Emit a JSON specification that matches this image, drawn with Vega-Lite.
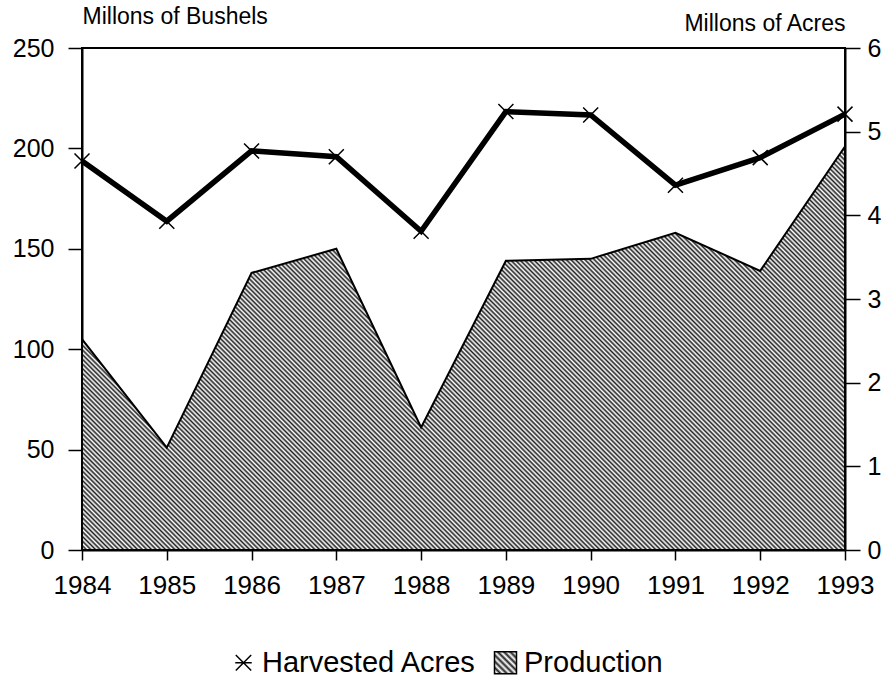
{
"$schema": "https://vega.github.io/schema/vega-lite/v6.json",
"width": 763,
"height": 502,
"autosize": {"type": "none"},
"padding": {"left": 82, "top": 48, "right": 40, "bottom": 128},
"background": "white",
"config": {
"view": {"stroke": "black", "strokeWidth": 2},
"font": "Liberation Sans",
"axis": {"domainColor": "black", "domainWidth": 2, "tickColor": "black", "tickWidth": 1.5, "labelColor": "black", "labelFont": "Liberation Sans", "titleFont": "Liberation Sans", "titleColor": "black", "titleFontWeight": "normal", "grid": false, "labelFontSize": 25}
},
"data": {"values": [
{"year": 1984, "production": 105, "acres": 4.65},
{"year": 1985, "production": 51, "acres": 3.93},
{"year": 1986, "production": 138, "acres": 4.77},
{"year": 1987, "production": 150, "acres": 4.70},
{"year": 1988, "production": 61, "acres": 3.81},
{"year": 1989, "production": 144, "acres": 5.24},
{"year": 1990, "production": 145, "acres": 5.20},
{"year": 1991, "production": 158, "acres": 4.36},
{"year": 1992, "production": 139, "acres": 4.69},
{"year": 1993, "production": 201, "acres": 5.21}
]},
"encoding": {
"x": {"field": "year", "type": "quantitative", "scale": {"domain": [1984, 1993], "nice": false, "zero": false},
"axis": {"values": [1984,1985,1986,1987,1988,1989,1990,1991,1992,1993], "format": "d", "title": null, "labelFontSize": 26, "labelPadding": 12, "tickSize": 10, "labelFlush": false, "grid": false}}
},
"layer": [
{
"mark": {"type": "area", "stroke": "black", "strokeWidth": 2,
"fill": {"gradient": "linear", "x1": 0, "y1": 1, "x2": 1.1946, "y2": 0.3675, "stops": [
{"offset":0.000,"color":"#222"},{"offset":0.002,"color":"#fff"},{"offset":0.004,"color":"#222"},{"offset":0.006,"color":"#fff"},{"offset":0.008,"color":"#222"},
{"offset":0.010,"color":"#fff"},{"offset":0.012,"color":"#222"},{"offset":0.014,"color":"#fff"},{"offset":0.016,"color":"#222"},{"offset":0.018,"color":"#fff"},
{"offset":0.020,"color":"#222"},{"offset":0.022,"color":"#fff"},{"offset":0.024,"color":"#222"},{"offset":0.026,"color":"#fff"},{"offset":0.028,"color":"#222"},
{"offset":0.030,"color":"#fff"},{"offset":0.032,"color":"#222"},{"offset":0.034,"color":"#fff"},{"offset":0.036,"color":"#222"},{"offset":0.038,"color":"#fff"},
{"offset":0.040,"color":"#222"},{"offset":0.042,"color":"#fff"},{"offset":0.044,"color":"#222"},{"offset":0.046,"color":"#fff"},{"offset":0.048,"color":"#222"},
{"offset":0.050,"color":"#fff"},{"offset":0.052,"color":"#222"},{"offset":0.054,"color":"#fff"},{"offset":0.056,"color":"#222"},{"offset":0.058,"color":"#fff"},
{"offset":0.060,"color":"#222"},{"offset":0.062,"color":"#fff"},{"offset":0.064,"color":"#222"},{"offset":0.066,"color":"#fff"},{"offset":0.068,"color":"#222"},
{"offset":0.070,"color":"#fff"},{"offset":0.072,"color":"#222"},{"offset":0.074,"color":"#fff"},{"offset":0.076,"color":"#222"},{"offset":0.078,"color":"#fff"},
{"offset":0.080,"color":"#222"},{"offset":0.082,"color":"#fff"},{"offset":0.084,"color":"#222"},{"offset":0.086,"color":"#fff"},{"offset":0.088,"color":"#222"},
{"offset":0.090,"color":"#fff"},{"offset":0.092,"color":"#222"},{"offset":0.094,"color":"#fff"},{"offset":0.096,"color":"#222"},{"offset":0.098,"color":"#fff"},
{"offset":0.100,"color":"#222"},{"offset":0.102,"color":"#fff"},{"offset":0.104,"color":"#222"},{"offset":0.106,"color":"#fff"},{"offset":0.108,"color":"#222"},
{"offset":0.110,"color":"#fff"},{"offset":0.112,"color":"#222"},{"offset":0.114,"color":"#fff"},{"offset":0.116,"color":"#222"},{"offset":0.118,"color":"#fff"},
{"offset":0.120,"color":"#222"},{"offset":0.122,"color":"#fff"},{"offset":0.124,"color":"#222"},{"offset":0.126,"color":"#fff"},{"offset":0.128,"color":"#222"},
{"offset":0.130,"color":"#fff"},{"offset":0.132,"color":"#222"},{"offset":0.134,"color":"#fff"},{"offset":0.136,"color":"#222"},{"offset":0.138,"color":"#fff"},
{"offset":0.140,"color":"#222"},{"offset":0.142,"color":"#fff"},{"offset":0.144,"color":"#222"},{"offset":0.146,"color":"#fff"},{"offset":0.148,"color":"#222"},
{"offset":0.150,"color":"#fff"},{"offset":0.152,"color":"#222"},{"offset":0.154,"color":"#fff"},{"offset":0.156,"color":"#222"},{"offset":0.158,"color":"#fff"},
{"offset":0.160,"color":"#222"},{"offset":0.162,"color":"#fff"},{"offset":0.164,"color":"#222"},{"offset":0.166,"color":"#fff"},{"offset":0.168,"color":"#222"},
{"offset":0.170,"color":"#fff"},{"offset":0.172,"color":"#222"},{"offset":0.174,"color":"#fff"},{"offset":0.176,"color":"#222"},{"offset":0.178,"color":"#fff"},
{"offset":0.180,"color":"#222"},{"offset":0.182,"color":"#fff"},{"offset":0.184,"color":"#222"},{"offset":0.186,"color":"#fff"},{"offset":0.188,"color":"#222"},
{"offset":0.190,"color":"#fff"},{"offset":0.192,"color":"#222"},{"offset":0.194,"color":"#fff"},{"offset":0.196,"color":"#222"},{"offset":0.198,"color":"#fff"},
{"offset":0.200,"color":"#222"},{"offset":0.202,"color":"#fff"},{"offset":0.204,"color":"#222"},{"offset":0.206,"color":"#fff"},{"offset":0.208,"color":"#222"},
{"offset":0.210,"color":"#fff"},{"offset":0.212,"color":"#222"},{"offset":0.214,"color":"#fff"},{"offset":0.216,"color":"#222"},{"offset":0.218,"color":"#fff"},
{"offset":0.220,"color":"#222"},{"offset":0.222,"color":"#fff"},{"offset":0.224,"color":"#222"},{"offset":0.226,"color":"#fff"},{"offset":0.228,"color":"#222"},
{"offset":0.230,"color":"#fff"},{"offset":0.232,"color":"#222"},{"offset":0.234,"color":"#fff"},{"offset":0.236,"color":"#222"},{"offset":0.238,"color":"#fff"},
{"offset":0.240,"color":"#222"},{"offset":0.242,"color":"#fff"},{"offset":0.244,"color":"#222"},{"offset":0.246,"color":"#fff"},{"offset":0.248,"color":"#222"},
{"offset":0.250,"color":"#fff"},{"offset":0.252,"color":"#222"},{"offset":0.254,"color":"#fff"},{"offset":0.256,"color":"#222"},{"offset":0.258,"color":"#fff"},
{"offset":0.260,"color":"#222"},{"offset":0.262,"color":"#fff"},{"offset":0.264,"color":"#222"},{"offset":0.266,"color":"#fff"},{"offset":0.268,"color":"#222"},
{"offset":0.270,"color":"#fff"},{"offset":0.272,"color":"#222"},{"offset":0.274,"color":"#fff"},{"offset":0.276,"color":"#222"},{"offset":0.278,"color":"#fff"},
{"offset":0.280,"color":"#222"},{"offset":0.282,"color":"#fff"},{"offset":0.284,"color":"#222"},{"offset":0.286,"color":"#fff"},{"offset":0.288,"color":"#222"},
{"offset":0.290,"color":"#fff"},{"offset":0.292,"color":"#222"},{"offset":0.294,"color":"#fff"},{"offset":0.296,"color":"#222"},{"offset":0.298,"color":"#fff"},
{"offset":0.300,"color":"#222"},{"offset":0.302,"color":"#fff"},{"offset":0.304,"color":"#222"},{"offset":0.306,"color":"#fff"},{"offset":0.308,"color":"#222"},
{"offset":0.310,"color":"#fff"},{"offset":0.312,"color":"#222"},{"offset":0.314,"color":"#fff"},{"offset":0.316,"color":"#222"},{"offset":0.318,"color":"#fff"},
{"offset":0.320,"color":"#222"},{"offset":0.322,"color":"#fff"},{"offset":0.324,"color":"#222"},{"offset":0.326,"color":"#fff"},{"offset":0.328,"color":"#222"},
{"offset":0.330,"color":"#fff"},{"offset":0.332,"color":"#222"},{"offset":0.334,"color":"#fff"},{"offset":0.336,"color":"#222"},{"offset":0.338,"color":"#fff"},
{"offset":0.340,"color":"#222"},{"offset":0.342,"color":"#fff"},{"offset":0.344,"color":"#222"},{"offset":0.346,"color":"#fff"},{"offset":0.348,"color":"#222"},
{"offset":0.350,"color":"#fff"},{"offset":0.352,"color":"#222"},{"offset":0.354,"color":"#fff"},{"offset":0.356,"color":"#222"},{"offset":0.358,"color":"#fff"},
{"offset":0.360,"color":"#222"},{"offset":0.362,"color":"#fff"},{"offset":0.364,"color":"#222"},{"offset":0.366,"color":"#fff"},{"offset":0.368,"color":"#222"},
{"offset":0.370,"color":"#fff"},{"offset":0.372,"color":"#222"},{"offset":0.374,"color":"#fff"},{"offset":0.376,"color":"#222"},{"offset":0.378,"color":"#fff"},
{"offset":0.380,"color":"#222"},{"offset":0.382,"color":"#fff"},{"offset":0.384,"color":"#222"},{"offset":0.386,"color":"#fff"},{"offset":0.388,"color":"#222"},
{"offset":0.390,"color":"#fff"},{"offset":0.392,"color":"#222"},{"offset":0.394,"color":"#fff"},{"offset":0.396,"color":"#222"},{"offset":0.398,"color":"#fff"},
{"offset":0.400,"color":"#222"},{"offset":0.402,"color":"#fff"},{"offset":0.404,"color":"#222"},{"offset":0.406,"color":"#fff"},{"offset":0.408,"color":"#222"},
{"offset":0.410,"color":"#fff"},{"offset":0.412,"color":"#222"},{"offset":0.414,"color":"#fff"},{"offset":0.416,"color":"#222"},{"offset":0.418,"color":"#fff"},
{"offset":0.420,"color":"#222"},{"offset":0.422,"color":"#fff"},{"offset":0.424,"color":"#222"},{"offset":0.426,"color":"#fff"},{"offset":0.428,"color":"#222"},
{"offset":0.430,"color":"#fff"},{"offset":0.432,"color":"#222"},{"offset":0.434,"color":"#fff"},{"offset":0.436,"color":"#222"},{"offset":0.438,"color":"#fff"},
{"offset":0.440,"color":"#222"},{"offset":0.442,"color":"#fff"},{"offset":0.444,"color":"#222"},{"offset":0.446,"color":"#fff"},{"offset":0.448,"color":"#222"},
{"offset":0.450,"color":"#fff"},{"offset":0.452,"color":"#222"},{"offset":0.454,"color":"#fff"},{"offset":0.456,"color":"#222"},{"offset":0.458,"color":"#fff"},
{"offset":0.460,"color":"#222"},{"offset":0.462,"color":"#fff"},{"offset":0.464,"color":"#222"},{"offset":0.466,"color":"#fff"},{"offset":0.468,"color":"#222"},
{"offset":0.470,"color":"#fff"},{"offset":0.472,"color":"#222"},{"offset":0.474,"color":"#fff"},{"offset":0.476,"color":"#222"},{"offset":0.478,"color":"#fff"},
{"offset":0.480,"color":"#222"},{"offset":0.482,"color":"#fff"},{"offset":0.484,"color":"#222"},{"offset":0.486,"color":"#fff"},{"offset":0.488,"color":"#222"},
{"offset":0.490,"color":"#fff"},{"offset":0.492,"color":"#222"},{"offset":0.494,"color":"#fff"},{"offset":0.496,"color":"#222"},{"offset":0.498,"color":"#fff"},
{"offset":0.500,"color":"#222"},{"offset":0.502,"color":"#fff"},{"offset":0.504,"color":"#222"},{"offset":0.506,"color":"#fff"},{"offset":0.508,"color":"#222"},
{"offset":0.510,"color":"#fff"},{"offset":0.512,"color":"#222"},{"offset":0.514,"color":"#fff"},{"offset":0.516,"color":"#222"},{"offset":0.518,"color":"#fff"},
{"offset":0.520,"color":"#222"},{"offset":0.522,"color":"#fff"},{"offset":0.524,"color":"#222"},{"offset":0.526,"color":"#fff"},{"offset":0.528,"color":"#222"},
{"offset":0.530,"color":"#fff"},{"offset":0.532,"color":"#222"},{"offset":0.534,"color":"#fff"},{"offset":0.536,"color":"#222"},{"offset":0.538,"color":"#fff"},
{"offset":0.540,"color":"#222"},{"offset":0.542,"color":"#fff"},{"offset":0.544,"color":"#222"},{"offset":0.546,"color":"#fff"},{"offset":0.548,"color":"#222"},
{"offset":0.550,"color":"#fff"},{"offset":0.552,"color":"#222"},{"offset":0.554,"color":"#fff"},{"offset":0.556,"color":"#222"},{"offset":0.558,"color":"#fff"},
{"offset":0.560,"color":"#222"},{"offset":0.562,"color":"#fff"},{"offset":0.564,"color":"#222"},{"offset":0.566,"color":"#fff"},{"offset":0.568,"color":"#222"},
{"offset":0.570,"color":"#fff"},{"offset":0.572,"color":"#222"},{"offset":0.574,"color":"#fff"},{"offset":0.576,"color":"#222"},{"offset":0.578,"color":"#fff"},
{"offset":0.580,"color":"#222"},{"offset":0.582,"color":"#fff"},{"offset":0.584,"color":"#222"},{"offset":0.586,"color":"#fff"},{"offset":0.588,"color":"#222"},
{"offset":0.590,"color":"#fff"},{"offset":0.592,"color":"#222"},{"offset":0.594,"color":"#fff"},{"offset":0.596,"color":"#222"},{"offset":0.598,"color":"#fff"},
{"offset":0.600,"color":"#222"},{"offset":0.602,"color":"#fff"},{"offset":0.604,"color":"#222"},{"offset":0.606,"color":"#fff"},{"offset":0.608,"color":"#222"},
{"offset":0.610,"color":"#fff"},{"offset":0.612,"color":"#222"},{"offset":0.614,"color":"#fff"},{"offset":0.616,"color":"#222"},{"offset":0.618,"color":"#fff"},
{"offset":0.620,"color":"#222"},{"offset":0.622,"color":"#fff"},{"offset":0.624,"color":"#222"},{"offset":0.626,"color":"#fff"},{"offset":0.628,"color":"#222"},
{"offset":0.630,"color":"#fff"},{"offset":0.632,"color":"#222"},{"offset":0.634,"color":"#fff"},{"offset":0.636,"color":"#222"},{"offset":0.638,"color":"#fff"},
{"offset":0.640,"color":"#222"},{"offset":0.642,"color":"#fff"},{"offset":0.644,"color":"#222"},{"offset":0.646,"color":"#fff"},{"offset":0.648,"color":"#222"},
{"offset":0.650,"color":"#fff"},{"offset":0.652,"color":"#222"},{"offset":0.654,"color":"#fff"},{"offset":0.656,"color":"#222"},{"offset":0.658,"color":"#fff"},
{"offset":0.660,"color":"#222"},{"offset":0.662,"color":"#fff"},{"offset":0.664,"color":"#222"},{"offset":0.666,"color":"#fff"},{"offset":0.668,"color":"#222"},
{"offset":0.670,"color":"#fff"},{"offset":0.672,"color":"#222"},{"offset":0.674,"color":"#fff"},{"offset":0.676,"color":"#222"},{"offset":0.678,"color":"#fff"},
{"offset":0.680,"color":"#222"},{"offset":0.682,"color":"#fff"},{"offset":0.684,"color":"#222"},{"offset":0.686,"color":"#fff"},{"offset":0.688,"color":"#222"},
{"offset":0.690,"color":"#fff"},{"offset":0.692,"color":"#222"},{"offset":0.694,"color":"#fff"},{"offset":0.696,"color":"#222"},{"offset":0.698,"color":"#fff"},
{"offset":0.700,"color":"#222"},{"offset":0.702,"color":"#fff"},{"offset":0.704,"color":"#222"},{"offset":0.706,"color":"#fff"},{"offset":0.708,"color":"#222"},
{"offset":0.710,"color":"#fff"},{"offset":0.712,"color":"#222"},{"offset":0.714,"color":"#fff"},{"offset":0.716,"color":"#222"},{"offset":0.718,"color":"#fff"},
{"offset":0.720,"color":"#222"},{"offset":0.722,"color":"#fff"},{"offset":0.724,"color":"#222"},{"offset":0.726,"color":"#fff"},{"offset":0.728,"color":"#222"},
{"offset":0.730,"color":"#fff"},{"offset":0.732,"color":"#222"},{"offset":0.734,"color":"#fff"},{"offset":0.736,"color":"#222"},{"offset":0.738,"color":"#fff"},
{"offset":0.740,"color":"#222"},{"offset":0.742,"color":"#fff"},{"offset":0.744,"color":"#222"},{"offset":0.746,"color":"#fff"},{"offset":0.748,"color":"#222"},
{"offset":0.750,"color":"#fff"},{"offset":0.752,"color":"#222"},{"offset":0.754,"color":"#fff"},{"offset":0.756,"color":"#222"},{"offset":0.758,"color":"#fff"},
{"offset":0.760,"color":"#222"},{"offset":0.762,"color":"#fff"},{"offset":0.764,"color":"#222"},{"offset":0.766,"color":"#fff"},{"offset":0.768,"color":"#222"},
{"offset":0.770,"color":"#fff"},{"offset":0.772,"color":"#222"},{"offset":0.774,"color":"#fff"},{"offset":0.776,"color":"#222"},{"offset":0.778,"color":"#fff"},
{"offset":0.780,"color":"#222"},{"offset":0.782,"color":"#fff"},{"offset":0.784,"color":"#222"},{"offset":0.786,"color":"#fff"},{"offset":0.788,"color":"#222"},
{"offset":0.790,"color":"#fff"},{"offset":0.792,"color":"#222"},{"offset":0.794,"color":"#fff"},{"offset":0.796,"color":"#222"},{"offset":0.798,"color":"#fff"},
{"offset":0.800,"color":"#222"},{"offset":0.802,"color":"#fff"},{"offset":0.804,"color":"#222"},{"offset":0.806,"color":"#fff"},{"offset":0.808,"color":"#222"},
{"offset":0.810,"color":"#fff"},{"offset":0.812,"color":"#222"},{"offset":0.814,"color":"#fff"},{"offset":0.816,"color":"#222"},{"offset":0.818,"color":"#fff"},
{"offset":0.820,"color":"#222"},{"offset":0.822,"color":"#fff"},{"offset":0.824,"color":"#222"},{"offset":0.826,"color":"#fff"},{"offset":0.828,"color":"#222"},
{"offset":0.830,"color":"#fff"},{"offset":0.832,"color":"#222"},{"offset":0.834,"color":"#fff"},{"offset":0.836,"color":"#222"},{"offset":0.838,"color":"#fff"},
{"offset":0.840,"color":"#222"},{"offset":0.842,"color":"#fff"},{"offset":0.844,"color":"#222"},{"offset":0.846,"color":"#fff"},{"offset":0.848,"color":"#222"},
{"offset":0.850,"color":"#fff"},{"offset":0.852,"color":"#222"},{"offset":0.854,"color":"#fff"},{"offset":0.856,"color":"#222"},{"offset":0.858,"color":"#fff"},
{"offset":0.860,"color":"#222"},{"offset":0.862,"color":"#fff"},{"offset":0.864,"color":"#222"},{"offset":0.866,"color":"#fff"},{"offset":0.868,"color":"#222"},
{"offset":0.870,"color":"#fff"},{"offset":0.872,"color":"#222"},{"offset":0.874,"color":"#fff"},{"offset":0.876,"color":"#222"},{"offset":0.878,"color":"#fff"},
{"offset":0.880,"color":"#222"},{"offset":0.882,"color":"#fff"},{"offset":0.884,"color":"#222"},{"offset":0.886,"color":"#fff"},{"offset":0.888,"color":"#222"},
{"offset":0.890,"color":"#fff"},{"offset":0.892,"color":"#222"},{"offset":0.894,"color":"#fff"},{"offset":0.896,"color":"#222"},{"offset":0.898,"color":"#fff"},
{"offset":0.900,"color":"#222"},{"offset":0.902,"color":"#fff"},{"offset":0.904,"color":"#222"},{"offset":0.906,"color":"#fff"},{"offset":0.908,"color":"#222"},
{"offset":0.910,"color":"#fff"},{"offset":0.912,"color":"#222"},{"offset":0.914,"color":"#fff"},{"offset":0.916,"color":"#222"},{"offset":0.918,"color":"#fff"},
{"offset":0.920,"color":"#222"},{"offset":0.922,"color":"#fff"},{"offset":0.924,"color":"#222"},{"offset":0.926,"color":"#fff"},{"offset":0.928,"color":"#222"},
{"offset":0.930,"color":"#fff"},{"offset":0.932,"color":"#222"},{"offset":0.934,"color":"#fff"},{"offset":0.936,"color":"#222"},{"offset":0.938,"color":"#fff"},
{"offset":0.940,"color":"#222"},{"offset":0.942,"color":"#fff"},{"offset":0.944,"color":"#222"},{"offset":0.946,"color":"#fff"},{"offset":0.948,"color":"#222"},
{"offset":0.950,"color":"#fff"},{"offset":0.952,"color":"#222"},{"offset":0.954,"color":"#fff"},{"offset":0.956,"color":"#222"},{"offset":0.958,"color":"#fff"},
{"offset":0.960,"color":"#222"},{"offset":0.962,"color":"#fff"},{"offset":0.964,"color":"#222"},{"offset":0.966,"color":"#fff"},{"offset":0.968,"color":"#222"},
{"offset":0.970,"color":"#fff"},{"offset":0.972,"color":"#222"},{"offset":0.974,"color":"#fff"},{"offset":0.976,"color":"#222"},{"offset":0.978,"color":"#fff"},
{"offset":0.980,"color":"#222"},{"offset":0.982,"color":"#fff"},{"offset":0.984,"color":"#222"},{"offset":0.986,"color":"#fff"},{"offset":0.988,"color":"#222"},
{"offset":0.990,"color":"#fff"},{"offset":0.992,"color":"#222"},{"offset":0.994,"color":"#fff"},{"offset":0.996,"color":"#222"},{"offset":0.998,"color":"#fff"},
{"offset":1.000,"color":"#222"}
]}},
"encoding": {
"y": {"field": "production", "type": "quantitative", "scale": {"domain": [0, 250], "nice": false},
"axis": {"orient": "left", "values": [0,50,100,150,200,250], "title": "Millons of Bushels", "titleAngle": 0, "titleAlign": "left", "titleBaseline": "middle", "titleX": 0, "titleY": -32, "titleFontSize": 23, "tickSize": 14, "labelPadding": 14, "labelFontSize": 25}}
}
},
{
"encoding": {
"y": {"field": "acres", "type": "quantitative", "scale": {"domain": [0, 6], "nice": false},
"axis": {"orient": "right", "values": [0,1,2,3,4,5,6], "title": "Millons of Acres", "titleAngle": 0, "titleAlign": "right", "titleBaseline": "middle", "titleX": 0, "titleY": -25, "titleFontSize": 23, "tickSize": 15, "labelPadding": 7, "labelFontSize": 25}}
},
"layer": [
{
"mark": {"type": "line", "strokeWidth": 5.5},
"encoding": {
"color": {"datum": "Harvested Acres", "type": "nominal",
"scale": {"domain": ["Harvested Acres", "Production"], "range": ["black", "black"]},
"legend": {"title": null, "orient": "none", "legendX": 147, "legendY": 600, "direction": "horizontal", "labelFont": "Liberation Sans", "labelFontSize": 29, "labelColor": "black", "labelLimit": 0, "symbolSize": 484, "symbolType": "square", "labelOffset": 4, "columnPadding": 14, "padding": 0, "symbolStrokeColor": "black", "symbolStrokeWidth": 1.5,
"encode": {"symbols": {"update": {
"shape": [{"test": "datum.value === 'Production'", "value": "square"}, {"value": "M-0.7,-0.7L0.7,0.7M-0.7,0.7L0.7,-0.7M-0.75,0L0.75,0"}],
"fill": [{"test": "datum.value === 'Production'", "value": {"gradient": "linear", "x1": 0, "y1": 1, "x2": 1, "y2": 0, "stops": [
{"offset":0,"color":"#222"},{"offset":0.0714,"color":"#fff"},{"offset":0.1429,"color":"#222"},{"offset":0.2143,"color":"#fff"},{"offset":0.2857,"color":"#222"},{"offset":0.3571,"color":"#fff"},{"offset":0.4286,"color":"#222"},{"offset":0.5,"color":"#fff"},{"offset":0.5714,"color":"#222"},{"offset":0.6429,"color":"#fff"},{"offset":0.7143,"color":"#222"},{"offset":0.7857,"color":"#fff"},{"offset":0.8571,"color":"#222"},{"offset":0.9286,"color":"#fff"},{"offset":1,"color":"#222"}
]}}, {"value": "transparent"}],
"stroke": {"value": "black"},
"strokeWidth": {"value": 1.5},
"opacity": {"value": 1}
}}}
}
}
}
},
{
"mark": {"type": "point", "shape": "M-1,-1L1,1M-1,1L1,-1", "filled": false, "color": "black", "strokeWidth": 1.5, "size": 225, "opacity": 1}
}
]
}
],
"resolve": {"scale": {"y": "independent"}}
}
